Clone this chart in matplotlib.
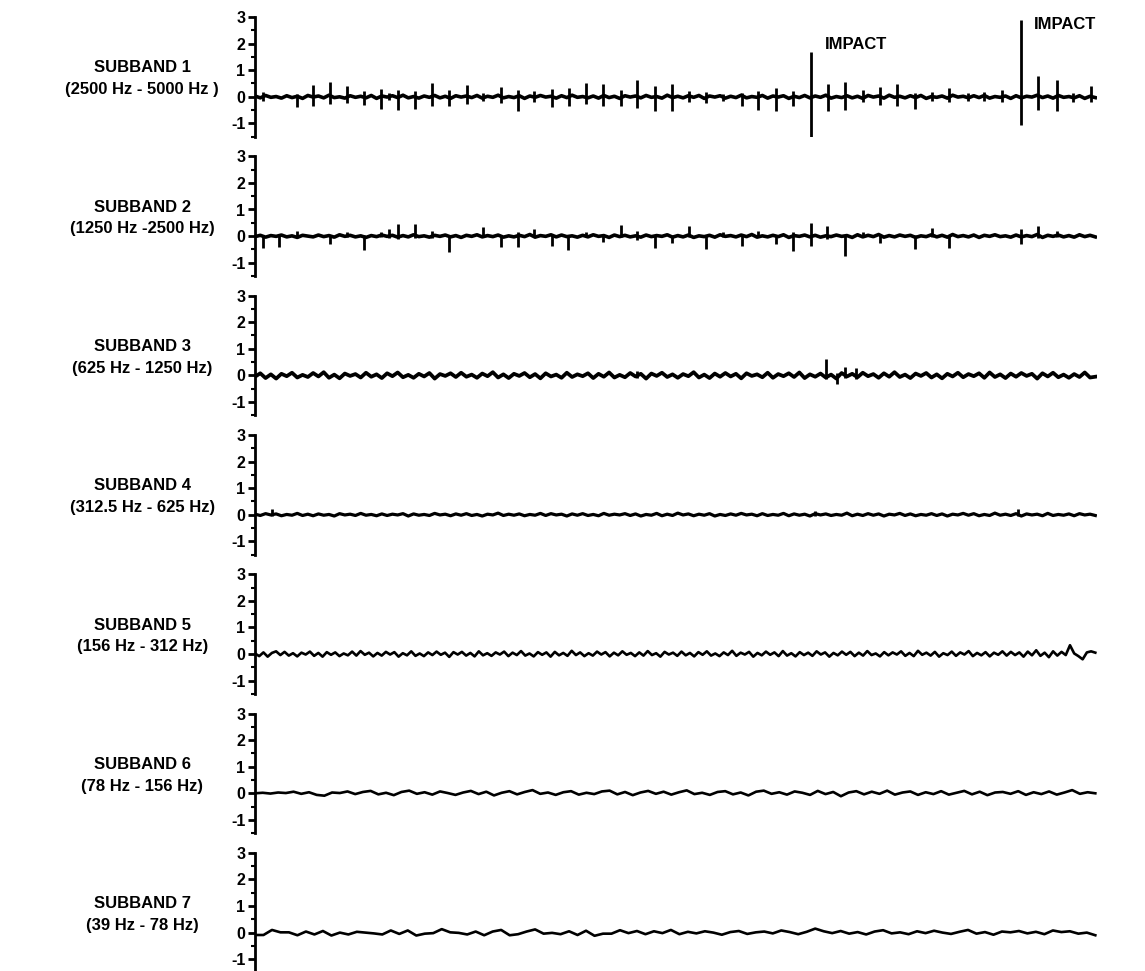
import numpy as np
import matplotlib.pyplot as plt
from matplotlib.ticker import MultipleLocator

plt.rcParams['font.family'] = ['Liberation Sans', 'DejaVu Sans']
plt.rcParams['axes.unicode_minus'] = False

band_names = ['SUBBAND 1', 'SUBBAND 2', 'SUBBAND 3', 'SUBBAND 4',
              'SUBBAND 5', 'SUBBAND 6', 'SUBBAND 7']
band_ranges = ['(2500 Hz - 5000 Hz )', '(1250 Hz -2500 Hz)', '(625 Hz - 1250 Hz)',
               '(312.5 Hz - 625 Hz)', '(156 Hz - 312 Hz)', '(78 Hz - 156 Hz)',
               '(39 Hz - 78 Hz)']

# record length (ms)
record_ms = 1000

# background wavelet coefficients per subband
sb1_base = [
    0.03, -0.04, 0.05, -0.02, 0.01, -0.05, 0.04, -0.03, 0.02, -0.06,
    0.05, -0.01, 0.03, -0.04, 0.06, -0.03, 0.00, -0.05, 0.04, -0.02,
    0.02, -0.04, 0.05, -0.06, 0.03, -0.01, 0.04, -0.03, 0.06, -0.04,
    0.01, -0.05, 0.03, -0.02, 0.05, -0.04, 0.02, -0.06, 0.04, -0.01,
    0.03, -0.03, 0.05, -0.05, 0.02, -0.02, 0.06, -0.04, 0.01, -0.03,
    0.04, -0.06, 0.03, -0.02, 0.05, -0.01, 0.02, -0.05, 0.04, -0.03,
    0.06, -0.02, 0.01, -0.04, 0.03, -0.05, 0.05, -0.03, 0.02, -0.06,
    0.04, -0.01, 0.03, -0.04, 0.05, -0.02, 0.01, -0.05, 0.06, -0.03,
    0.02, -0.04, 0.04, -0.02, 0.05, -0.06, 0.03, -0.01, 0.04, -0.05,
    0.02, -0.03, 0.06, -0.04, 0.01, -0.02, 0.05, -0.05, 0.03, -0.01,
    0.04, -0.06, 0.02, -0.03, 0.05, -0.04, 0.03, -0.02, 0.06, -0.05,
    0.01, -0.03, 0.04, -0.04, 0.02, -0.06, 0.05, -0.01, 0.03, -0.05,
    0.06, -0.02, 0.02, -0.04, 0.04, -0.03, 0.05, -0.06, 0.01, -0.02,
    0.03, -0.05, 0.06, -0.01, 0.02, -0.04, 0.04, -0.03, 0.05, -0.05,
    0.01, -0.02, 0.03, -0.06, 0.04, -0.04, 0.02, -0.01, 0.06, -0.03,
    0.03, -0.05, 0.05, -0.02, 0.01, -0.04, 0.04, -0.06, 0.02, -0.03]

sb2_base = [
    -0.02, 0.03, -0.04, 0.02, -0.01, 0.04, -0.03, 0.01, -0.05, 0.03,
    0.00, -0.03, 0.04, -0.02, 0.02, -0.04, 0.05, -0.01, 0.03, -0.03,
    0.01, -0.05, 0.02, -0.02, 0.04, -0.01, 0.03, -0.04, 0.02, -0.03,
    0.05, -0.02, 0.01, -0.04, 0.03, -0.01, 0.04, -0.03, 0.02, -0.05,
    0.03, -0.01, 0.05, -0.03, 0.02, -0.02, 0.04, -0.04, 0.01, -0.03,
    0.03, -0.02, 0.06, -0.04, 0.02, -0.01, 0.05, -0.03, 0.04, -0.02,
    0.01, -0.04, 0.03, -0.03, 0.05, -0.01, 0.02, -0.05, 0.04, -0.02,
    0.03, -0.03, 0.01, -0.04, 0.04, -0.02, 0.02, -0.01, 0.05, -0.04,
    0.02, -0.03, 0.04, -0.05, 0.01, -0.02, 0.03, -0.04, 0.05, -0.01,
    0.02, -0.03, 0.04, -0.02, 0.06, -0.04, 0.01, -0.03, 0.03, -0.02,
    0.05, -0.05, 0.02, -0.01, 0.04, -0.03, 0.03, -0.04, 0.01, -0.02,
    0.04, -0.01, 0.02, -0.05, 0.05, -0.03, 0.03, -0.02, 0.06, -0.04,
    0.02, -0.03, 0.04, -0.01, 0.03, -0.05, 0.01, -0.02, 0.05, -0.03,
    0.03, -0.04, 0.06, -0.02, 0.02, -0.03, 0.04, -0.05, 0.03, -0.01,
    0.05, -0.02, 0.01, -0.04, 0.04, -0.03, 0.02, -0.02, 0.06, -0.05,
    0.03, -0.01, 0.04, -0.03, 0.02, -0.04, 0.05, -0.02, 0.03, -0.03]

sb3_base = [
    -0.05, 0.08, -0.10, 0.04, -0.12, 0.06, -0.03, 0.10, -0.08, 0.02,
    -0.06, 0.09, -0.04, 0.12, -0.09, 0.03, -0.11, 0.07, -0.02, 0.05,
    -0.08, 0.10, -0.05, 0.04, -0.10, 0.08, -0.03, 0.11, -0.07, 0.02,
    -0.09, 0.06, -0.04, 0.09, -0.12, 0.05, -0.02, 0.08, -0.06, 0.10,
    -0.05, 0.03, -0.09, 0.07, -0.03, 0.12, -0.08, 0.04, -0.10, 0.06,
    -0.02, 0.09, -0.07, 0.05, -0.11, 0.08, -0.04, 0.03, -0.09, 0.10,
    -0.06, 0.04, -0.03, 0.08, -0.10, 0.06, -0.05, 0.11, -0.08, 0.02,
    -0.07, 0.09, -0.04, 0.06, -0.12, 0.07, -0.02, 0.10, -0.06, 0.04,
    -0.09, 0.05, -0.03, 0.12, -0.08, 0.03, -0.10, 0.07, -0.05, 0.09,
    -0.04, 0.06, -0.11, 0.08, -0.02, 0.04, -0.07, 0.10, -0.09, 0.05,
    -0.03, 0.08, -0.06, 0.11, -0.10, 0.04, -0.05, 0.07, -0.08, 0.03,
    -0.12, 0.09, -0.04, 0.06, -0.07, 0.10, -0.03, 0.05, -0.09, 0.08,
    -0.05, 0.12, -0.06, 0.03, -0.10, 0.07, -0.02, 0.09, -0.08, 0.04,
    -0.11, 0.06, -0.04, 0.10, -0.07, 0.05, -0.03, 0.08, -0.09, 0.11,
    -0.06, 0.04, -0.10, 0.07, -0.05, 0.09, -0.02, 0.06, -0.12, 0.08,
    -0.04, 0.10, -0.07, 0.03, -0.09, 0.05, -0.06, 0.11, -0.08, -0.05]

sb4_base = [
    0.02, -0.03, 0.04, -0.01, 0.03, -0.04, 0.01, -0.02, 0.05, -0.03,
    0.02, -0.04, 0.03, -0.02, 0.01, -0.05, 0.04, -0.01, 0.02, -0.03,
    0.05, -0.02, 0.01, -0.04, 0.03, -0.03, 0.02, -0.01, 0.04, -0.05,
    0.03, -0.02, 0.01, -0.03, 0.05, -0.01, 0.02, -0.04, 0.03, -0.02,
    0.04, -0.03, 0.01, -0.05, 0.02, -0.01, 0.06, -0.03, 0.02, -0.02,
    0.03, -0.04, 0.01, -0.02, 0.05, -0.03, 0.04, -0.01, 0.02, -0.05,
    0.03, -0.02, 0.04, -0.03, 0.01, -0.04, 0.05, -0.02, 0.02, -0.01,
    0.04, -0.03, 0.03, -0.05, 0.01, -0.02, 0.05, -0.04, 0.02, -0.03,
    0.06, -0.01, 0.03, -0.04, 0.02, -0.02, 0.04, -0.05, 0.01, -0.03,
    0.03, -0.02, 0.05, -0.01, 0.02, -0.04, 0.04, -0.03, 0.01, -0.02,
    0.05, -0.04, 0.03, -0.02, 0.02, -0.05, 0.04, -0.01, 0.03, -0.03,
    0.01, -0.02, 0.06, -0.04, 0.02, -0.03, 0.04, -0.02, 0.03, -0.05,
    0.02, -0.01, 0.05, -0.03, 0.03, -0.04, 0.01, -0.02, 0.04, -0.03,
    0.03, -0.05, 0.02, -0.01, 0.05, -0.02, 0.04, -0.04, 0.01, -0.03,
    0.06, -0.02, 0.02, -0.03, 0.04, -0.05, 0.03, -0.01, 0.02, -0.04,
    0.05, -0.03, 0.01, -0.02, 0.03, -0.04, 0.04, -0.01, 0.02, -0.03]

sb5_base = [
    0.02, -0.08, 0.06, -0.10, 0.04, 0.10, -0.04, 0.08, -0.06, 0.03,
    -0.09, 0.05, -0.02, 0.09, -0.07, 0.04, -0.10, 0.07, -0.03, 0.06,
    -0.08, 0.02, -0.05, 0.09, -0.06, 0.11, -0.03, 0.05, -0.09, 0.04,
    -0.06, 0.08, -0.02, 0.07, -0.10, 0.03, -0.05, 0.10, -0.07, 0.02,
    -0.08, 0.06, -0.04, 0.09, -0.03, 0.05, -0.11, 0.07, -0.02, 0.08,
    -0.06, 0.04, -0.09, 0.10, -0.05, 0.03, -0.07, 0.06, -0.02, 0.09,
    -0.08, 0.05, -0.04, 0.11, -0.06, 0.02, -0.09, 0.07, -0.03, 0.06,
    -0.10, 0.08, -0.05, 0.04, -0.07, 0.12, -0.04, 0.06, -0.08, 0.03,
    -0.06, 0.09, -0.02, 0.07, -0.09, 0.05, -0.05, 0.10, -0.03, 0.04,
    -0.08, 0.06, -0.06, 0.11, -0.04, 0.03, -0.10, 0.08, -0.02, 0.05,
    -0.07, 0.09, -0.05, 0.04, -0.09, 0.07, -0.03, 0.10, -0.06, 0.02,
    -0.08, 0.06, -0.04, 0.12, -0.07, 0.05, -0.02, 0.08, -0.10, 0.04,
    -0.05, 0.09, -0.03, 0.06, -0.08, 0.11, -0.06, 0.03, -0.09, 0.07,
    -0.04, 0.05, -0.07, 0.10, -0.02, 0.06, -0.10, 0.04, -0.05, 0.09,
    -0.03, 0.08, -0.08, 0.05, -0.06, 0.11, -0.04, 0.02, -0.09, 0.07,
    -0.05, 0.06, -0.02, 0.10, -0.07, 0.04, -0.08, 0.12, -0.03, 0.05,
    -0.06, 0.08, -0.10, 0.03, -0.04, 0.09, -0.07, 0.06, -0.02, 0.11,
    -0.08, 0.04, -0.05, 0.07, -0.09, 0.05, -0.03, 0.10, -0.06, 0.08,
    -0.04, 0.06, -0.10, 0.09, -0.05, 0.14, -0.07, 0.05, -0.12, 0.10,
    -0.06, 0.08, -0.04, 0.33, 0.02, -0.08, -0.20, 0.06, 0.10, 0.05]

sb6_base = [
    0.00, 0.02, -0.01, 0.03, 0.01, 0.06, -0.02, 0.04, -0.06, -0.09,
    0.03, 0.01, 0.07, -0.03, 0.05, 0.09, -0.04, 0.02, -0.07, 0.05,
    0.10, -0.02, 0.04, -0.05, 0.07, 0.01, -0.06, 0.03, 0.09, -0.03,
    0.06, -0.08, 0.02, 0.08, -0.04, 0.05, 0.12, -0.02, 0.03, -0.06,
    0.04, 0.08, -0.05, 0.02, -0.03, 0.07, 0.10, -0.04, 0.05, -0.07,
    0.03, 0.09, -0.02, 0.06, -0.05, 0.04, 0.11, -0.03, 0.02, -0.06,
    0.05, 0.08, -0.04, 0.03, -0.08, 0.06, 0.10, -0.02, 0.04, -0.05,
    0.07, 0.02, -0.06, 0.09, -0.03, 0.05, -0.11, 0.03, 0.08, -0.04,
    0.06, -0.02, 0.10, -0.05, 0.03, 0.07, -0.06, 0.04, -0.03, 0.08,
    -0.05, 0.02, 0.09, -0.04, 0.06, -0.07, 0.03, 0.05, -0.02, 0.08,
    -0.06, 0.04, -0.03, 0.07, -0.05, 0.03, 0.12, -0.02, 0.04, 0.00]

sb7_base = [
    -0.09, -0.09, 0.10, 0.01, 0.01, -0.10, 0.04, -0.07, 0.06, -0.11,
    0.00, -0.07, 0.03, 0.00, -0.03, -0.07, 0.08, -0.05, 0.08, -0.11,
    -0.04, -0.02, 0.13, 0.01, -0.01, -0.07, 0.04, -0.10, 0.04, 0.10,
    -0.10, -0.06, 0.04, 0.12, -0.04, -0.01, -0.06, 0.05, -0.09, 0.07,
    -0.12, -0.04, -0.04, 0.09, -0.02, 0.06, -0.06, 0.05, -0.02, 0.10,
    -0.06, 0.03, -0.03, 0.05, 0.00, -0.08, 0.02, 0.06, -0.05, 0.01,
    0.04, -0.03, 0.08, 0.02, -0.06, 0.03, 0.15, 0.05, -0.02, 0.06,
    -0.04, 0.02, -0.07, 0.04, 0.09, -0.03, 0.01, -0.06, 0.05, -0.02,
    0.07, 0.00, -0.05, 0.03, 0.10, -0.04, 0.02, -0.08, 0.04, 0.01,
    0.06, -0.03, 0.03, -0.06, 0.08, 0.02, 0.05, -0.04, 0.00, -0.10]

# transient spikes: time (ms), positive peak, negative peak
sb1_spike_t = [9.5, 50, 69, 89, 110, 130, 150, 160, 170, 190, 211, 231, 252, 271,
               293, 313, 332, 354, 374, 394, 414, 435, 455, 476, 496, 517, 537, 557,
               579, 599, 620, 640, 662, 682, 702, 723, 744, 764, 785, 806, 826, 848,
               868, 889, 911, 932, 954, 974, 995]
sb1_spike_up = [0.18, 0.12, 0.43, 0.55, 0.40, 0.20, 0.30, 0.15, 0.24, 0.20, 0.53, 0.24,
                0.45, 0.15, 0.37, 0.27, 0.20, 0.30, 0.32, 0.53, 0.49, 0.24, 0.62, 0.40,
                0.49, 0.20, 0.18, 0.12, 0.15, 0.20, 0.32, 0.20, 1.69, 0.49, 0.55, 0.24,
                0.37, 0.49, 0.15, 0.18, 0.32, 0.15, 0.18, 0.27, 2.88, 0.78, 0.62, 0.15,
                0.40]
sb1_spike_dn = [-0.16, -0.37, -0.33, -0.26, -0.23, -0.30, -0.45, -0.12, -0.48, -0.45,
                -0.35, -0.35, -0.26, -0.15, -0.22, -0.52, -0.20, -0.39, -0.35, -0.26,
                -0.33, -0.35, -0.43, -0.55, -0.55, -0.20, -0.22, -0.15, -0.35, -0.48,
                -0.55, -0.35, -1.50, -0.52, -0.48, -0.20, -0.30, -0.33, -0.45, -0.15,
                -0.20, -0.15, -0.15, -0.18, -1.06, -0.48, -0.52, -0.18, -0.20]

sb2_spike_t = [9.5, 29, 50, 89, 110, 130, 150, 160, 170, 190, 211, 231, 271, 293, 313,
               332, 354, 373, 394, 414, 435, 455, 476, 496, 517, 537, 557, 579, 599,
               620, 640, 662, 681, 702, 723, 744, 785, 806, 826, 911, 932, 954]
sb2_spike_up = [0.05, 0.05, 0.19, 0.05, 0.17, 0.05, 0.17, 0.25, 0.44, 0.44, 0.20, 0.05,
                0.34, 0.05, 0.17, 0.25, 0.05, 0.05, 0.17, 0.05, 0.42, 0.20, 0.05, 0.05,
                0.38, 0.05, 0.17, 0.05, 0.20, 0.05, 0.17, 0.48, 0.38, 0.05, 0.17, 0.05,
                0.05, 0.31, 0.05, 0.25, 0.38, 0.20]
sb2_spike_dn = [-0.46, -0.41, -0.05, -0.31, -0.05, -0.54, -0.05, -0.08, -0.10, -0.08,
                -0.08, -0.61, -0.05, -0.41, -0.41, -0.05, -0.37, -0.54, -0.05, -0.21,
                -0.05, -0.15, -0.43, -0.25, -0.05, -0.50, -0.05, -0.37, -0.05, -0.31,
                -0.56, -0.37, -0.10, -0.75, -0.05, -0.25, -0.50, -0.05, -0.43, -0.31,
                -0.08, -0.05]

sb3_spike_t = [455, 680, 692, 702, 715]
sb3_spike_up = [0.18, 0.62, 0.08, 0.30, 0.28]
sb3_spike_dn = [-0.10, -0.12, -0.34, -0.10, -0.12]

sb4_spike_t = [20, 667, 908]
sb4_spike_up = [0.22, 0.14, 0.22]
sb4_spike_dn = [-0.05, -0.05, -0.05]

bases = [sb1_base, sb2_base, sb3_base, sb4_base, sb5_base, sb6_base, sb7_base]
spikes = [(sb1_spike_t, sb1_spike_up, sb1_spike_dn),
          (sb2_spike_t, sb2_spike_up, sb2_spike_dn),
          (sb3_spike_t, sb3_spike_up, sb3_spike_dn),
          (sb4_spike_t, sb4_spike_up, sb4_spike_dn),
          None, None, None]

# trace widths: the high bands are drawn heavier
trace_lw = [2.6, 2.6, 2.7, 2.3, 1.9, 1.9, 1.9]

fig = plt.figure(figsize=(11.45, 9.71), dpi=100)
W, H = 1145, 971

# panel geometry in pixels
ax_left, ax_width = 255, 842
ax_top0, ax_step, ax_height = 17, 139.3, 119.7

impact_offsets = [(14, 7), (13, -4)]

for k in range(7):
    top = ax_top0 + k * ax_step
    ax = fig.add_axes([ax_left / W, 1 - (top + ax_height) / H, ax_width / W, ax_height / H])

    vals = np.array(bases[k])
    t = np.linspace(0, record_ms, len(vals))
    ax.plot(t, vals, color='black', lw=trace_lw[k], solid_joinstyle='round')

    if spikes[k] is not None:
        st, su, sd = spikes[k]
        ax.vlines(st, sd, su, color='black', lw=2.0)

    ax.set_xlim(0, record_ms + 2)
    ax.set_ylim(-1.5, 3)
    for s in ['top', 'right', 'bottom']:
        ax.spines[s].set_visible(False)
    ax.spines['left'].set_linewidth(2)
    ax.set_xticks([])
    ax.yaxis.set_major_locator(MultipleLocator(1))
    ax.yaxis.set_minor_locator(MultipleLocator(0.5))
    ax.tick_params(axis='y', which='major', length=5, width=2, labelsize=11.5, pad=2)
    ax.tick_params(axis='y', which='minor', length=3, width=1.5)
    for lab in ax.get_yticklabels():
        lab.set_fontweight('bold')

    ax.text(-0.134, 0.68, band_names[k] + '\n' + band_ranges[k],
            transform=ax.get_yaxis_transform(), ha='center', va='center',
            fontsize=12, fontweight='bold', linespacing=1.55)

    # label the two impact transients in the top band
    if k == 0:
        big = [i for i, u in enumerate(sb1_spike_up) if u > 1]
        for i, off in zip(big, impact_offsets):
            ax.annotate('IMPACT', xy=(sb1_spike_t[i], sb1_spike_up[i]),
                        xytext=off, textcoords='offset pixels',
                        ha='left', va='center', fontsize=12, fontweight='bold')

fig.savefig('out.png', dpi=100)
